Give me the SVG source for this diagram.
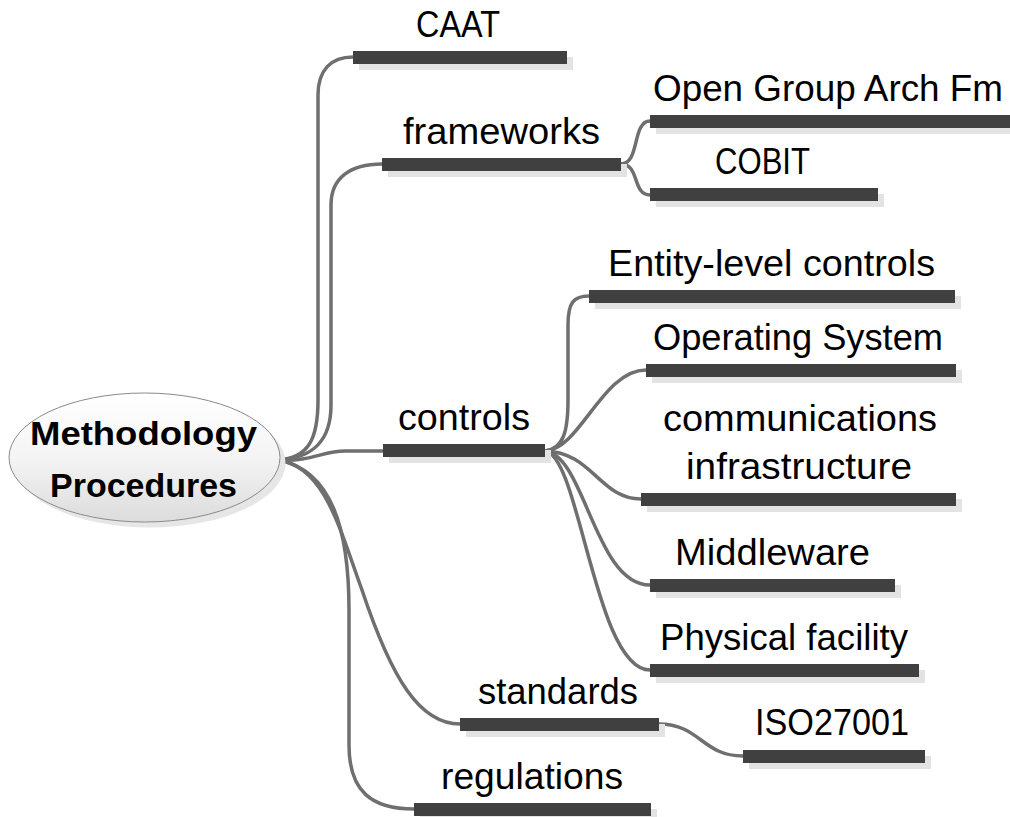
<svg xmlns="http://www.w3.org/2000/svg" width="1010" height="817" viewBox="0 0 1010 817">
<defs>
<linearGradient id="rootFill" x1="0" y1="0" x2="0" y2="1">
<stop offset="0" stop-color="#ffffff"/>
<stop offset="0.5" stop-color="#f4f4f4"/>
<stop offset="1" stop-color="#dcdcdc"/>
</linearGradient>
</defs>
<style>
.bar{fill:#404040}
.sh{fill:#e3e3e3}
.lbl{font-family:"Liberation Sans",Arial,sans-serif;font-size:36px;fill:#000}
.root{font-family:"Liberation Sans",Arial,sans-serif;font-size:33px;font-weight:bold;fill:#000}
.con{fill:none;stroke:#6f6f6f;stroke-width:3.5;stroke-linecap:round}
</style>
<rect width="1010" height="817" fill="#ffffff"/>
<g id="connectors">
<path class="con" d="M278,460 C308,458 318,440 318,400 L318,95 C318,70 331,57 353,57"/>
<path class="con" d="M278,460 C314,458 331,440 331,405 L331,205 C331,178 350,164 382,164"/>
<path class="con" d="M278,460 C312,462 322,451 345,451 L383,451"/>
<path class="con" d="M278,460 C325,466 340,530 362,590 C392,680 420,724 460,724"/>
<path class="con" d="M278,460 C332,470 349,530 349,610 L349,745 C349,792 372,809 414,809"/>
<path class="con" d="M621,164 C640,164 632,121 650,121"/>
<path class="con" d="M621,164 C640,164 632,195 650,195"/>
<path class="con" d="M545,451 C563,449 568,432 568,400 L568,325 C568,302 574,296 589,296"/>
<path class="con" d="M545,451 C580,450 602,370 646,370"/>
<path class="con" d="M545,451 C592,452 600,499 641,499"/>
<path class="con" d="M545,451 C585,455 595,585 650,585"/>
<path class="con" d="M545,451 C580,455 595,670 650,670"/>
<path class="con" d="M659,724 C700,724 702,756 743,756"/>
</g>
<g id="root">
<ellipse cx="150" cy="463" rx="135.5" ry="64.5" fill="#e6e6e6"/>
<ellipse cx="144.5" cy="457.5" rx="135.5" ry="64.5" fill="url(#rootFill)" stroke="#8a8a8a" stroke-width="1"/>
<text class="root" x="30" y="445" textLength="227" lengthAdjust="spacingAndGlyphs">Methodology</text>
<text class="root" x="50" y="497" textLength="187" lengthAdjust="spacingAndGlyphs">Procedures</text>
</g>
<g id="caat">
<rect class="sh" x="359" y="57" width="214" height="13"/>
<rect class="bar" x="353" y="51" width="214" height="13"/>
<text class="lbl" x="416" y="37" textLength="84" lengthAdjust="spacingAndGlyphs">CAAT</text>
</g>
<g id="frameworks">
<rect class="sh" x="388" y="164" width="239" height="13"/>
<rect class="bar" x="382" y="158" width="239" height="13"/>
<text class="lbl" x="403" y="144" textLength="197" lengthAdjust="spacingAndGlyphs">frameworks</text>
</g>
<g id="open-group">
<rect class="sh" x="656" y="121" width="360" height="13"/>
<rect class="bar" x="650" y="115" width="362" height="13"/>
<text class="lbl" x="653" y="101" textLength="350" lengthAdjust="spacingAndGlyphs">Open Group Arch Fm</text>
</g>
<g id="cobit">
<rect class="sh" x="656" y="194" width="228" height="13"/>
<rect class="bar" x="650" y="188" width="228" height="13"/>
<text class="lbl" x="715" y="174" textLength="95" lengthAdjust="spacingAndGlyphs">COBIT</text>
</g>
<g id="controls">
<rect class="sh" x="389" y="450" width="162" height="13"/>
<rect class="bar" x="383" y="444" width="162" height="13"/>
<text class="lbl" x="398" y="430" textLength="132" lengthAdjust="spacingAndGlyphs">controls</text>
</g>
<g id="entity-level">
<rect class="sh" x="595" y="296" width="366" height="13"/>
<rect class="bar" x="589" y="290" width="366" height="13"/>
<text class="lbl" x="608" y="276" textLength="327" lengthAdjust="spacingAndGlyphs">Entity-level controls</text>
</g>
<g id="operating-system">
<rect class="sh" x="652" y="370" width="310" height="13"/>
<rect class="bar" x="646" y="364" width="310" height="13"/>
<text class="lbl" x="653" y="350" textLength="290" lengthAdjust="spacingAndGlyphs">Operating System</text>
</g>
<g id="communications">
<rect class="sh" x="647" y="499" width="315" height="13"/>
<rect class="bar" x="641" y="493" width="315" height="13"/>
<text class="lbl" x="663" y="431" textLength="274" lengthAdjust="spacingAndGlyphs">communications</text>
<text class="lbl" x="686" y="479" textLength="226" lengthAdjust="spacingAndGlyphs">infrastructure</text>
</g>
<g id="middleware">
<rect class="sh" x="656" y="585" width="245" height="13"/>
<rect class="bar" x="650" y="579" width="245" height="13"/>
<text class="lbl" x="675" y="565" textLength="195" lengthAdjust="spacingAndGlyphs">Middleware</text>
</g>
<g id="physical-facility">
<rect class="sh" x="656" y="670" width="269" height="13"/>
<rect class="bar" x="650" y="664" width="269" height="13"/>
<text class="lbl" x="660" y="650" textLength="248" lengthAdjust="spacingAndGlyphs">Physical facility</text>
</g>
<g id="standards">
<rect class="sh" x="466" y="724" width="199" height="13"/>
<rect class="bar" x="460" y="718" width="199" height="13"/>
<text class="lbl" x="478" y="704" textLength="160" lengthAdjust="spacingAndGlyphs">standards</text>
</g>
<g id="iso27001">
<rect class="sh" x="749" y="756" width="182" height="13"/>
<rect class="bar" x="743" y="750" width="182" height="13"/>
<text class="lbl" x="755" y="735" textLength="154" lengthAdjust="spacingAndGlyphs">ISO27001</text>
</g>
<g id="regulations">
<rect class="sh" x="420" y="809" width="237" height="13"/>
<rect class="bar" x="414" y="803" width="237" height="13"/>
<text class="lbl" x="441" y="789" textLength="182" lengthAdjust="spacingAndGlyphs">regulations</text>
</g>
</svg>
